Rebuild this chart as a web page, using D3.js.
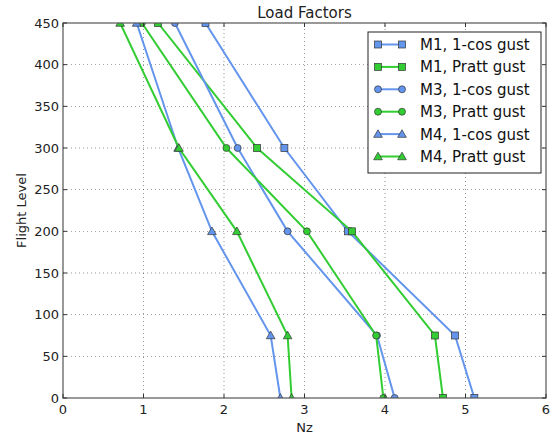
<!DOCTYPE html>
<html><head><meta charset="utf-8">
<script src="https://cdn.jsdelivr.net/npm/d3@7"></script>
<style>body{margin:0;background:#fff;} svg{display:block;}</style>
</head><body>
<script>
const levels = [450, 300, 200, 75, 0];
const m1Cos   = [1.77, 2.75, 3.54, 4.87, 5.11];
const m1Pratt = [1.18, 2.41, 3.59, 4.62, 4.72];
const m3Cos   = [1.39, 2.17, 2.79, 3.90, 4.12];
const m3Pratt = [0.98, 2.03, 3.03, 3.89, 3.98];
const m4Cos   = [0.915, 1.43, 1.85, 2.58, 2.70];
const m4Pratt = [0.71, 1.44, 2.16, 2.79, 2.84];
const seriesNames = ["M1, 1-cos gust","M1, Pratt gust","M3, 1-cos gust","M3, Pratt gust","M4, 1-cos gust","M4, Pratt gust"];
const xTicks = [0,1,2,3,4,5,6];
const yTicks = [0,50,100,150,200,250,300,350,400,450];

const series = [
  {name: seriesNames[0], vals: m1Cos, color: "#6495ed", marker: "square"},
  {name: seriesNames[1], vals: m1Pratt, color: "#32cd32", marker: "square"},
  {name: seriesNames[2], vals: m3Cos, color: "#6495ed", marker: "circle"},
  {name: seriesNames[3], vals: m3Pratt, color: "#32cd32", marker: "circle"},
  {name: seriesNames[4], vals: m4Cos, color: "#6495ed", marker: "triangle"},
  {name: seriesNames[5], vals: m4Pratt, color: "#32cd32", marker: "triangle"},
];

const W = 552, H = 435;
const m = {left: 63, right: 6, top: 23, bottom: 37};
const svg = d3.select("body").append("svg").attr("width", W).attr("height", H)
  .style("font-family", "'DejaVu Sans', sans-serif");
const iw = W - m.left - m.right, ih = H - m.top - m.bottom;
const x = d3.scaleLinear().domain([0, 6]).range([m.left, m.left + iw]);
const y = d3.scaleLinear().domain([0, 450]).range([m.top + ih, m.top]);

const g = svg.append("g");
// grid
g.selectAll("line.gx").data(xTicks.slice(1, -1)).join("line")
  .attr("x1", d => x(d)).attr("x2", d => x(d)).attr("y1", y(0)).attr("y2", y(450))
  .attr("stroke", "#000").attr("stroke-width", 0.6).attr("stroke-dasharray", "1,3").attr("opacity", 0.7);
g.selectAll("line.gy").data(yTicks.slice(1, -1)).join("line")
  .attr("y1", d => y(d)).attr("y2", d => y(d)).attr("x1", x(0)).attr("x2", x(6))
  .attr("stroke", "#000").attr("stroke-width", 0.6).attr("stroke-dasharray", "1,3").attr("opacity", 0.7);

const clip = svg.append("clipPath").attr("id", "c").append("rect")
  .attr("x", x(0)).attr("y", y(450)).attr("width", iw).attr("height", ih);

const plot = svg.append("g").attr("clip-path", "url(#c)");
const line = d3.line().x(d => x(d[0])).y(d => y(d[1]));

function drawMarker(sel, type, color, size) {
  if (type === "square") {
    sel.append("rect").attr("x", -size/2).attr("y", -size/2).attr("width", size).attr("height", size)
      .attr("fill", color).attr("stroke", "#333").attr("stroke-width", 0.7);
  } else if (type === "circle") {
    sel.append("circle").attr("r", size/2).attr("fill", color).attr("stroke", "#333").attr("stroke-width", 0.7);
  } else {
    const s = size * 0.62;
    sel.append("path").attr("d", `M0,${-s}L${s},${s*0.75}L${-s},${s*0.75}Z`)
      .attr("fill", color).attr("stroke", "#333").attr("stroke-width", 0.7);
  }
}

series.forEach(s => {
  const pts = s.vals.map((v, i) => [v, levels[i]]);
  plot.append("path").datum(pts).attr("d", line).attr("fill", "none")
    .attr("stroke", s.color).attr("stroke-width", 2);
  pts.forEach(p => {
    const mg = plot.append("g").attr("transform", `translate(${x(p[0])},${y(p[1])})`);
    drawMarker(mg, s.marker, s.color, 7);
  });
});

// frame
svg.append("rect").attr("x", x(0)).attr("y", y(450)).attr("width", iw).attr("height", ih)
  .attr("fill", "none").attr("stroke", "#555").attr("stroke-width", 1.2);

// ticks (inward)
xTicks.forEach(t => {
  svg.append("line").attr("x1", x(t)).attr("x2", x(t)).attr("y1", y(0)).attr("y2", y(0) - 4).attr("stroke", "#333");
  svg.append("line").attr("x1", x(t)).attr("x2", x(t)).attr("y1", y(450)).attr("y2", y(450) + 4).attr("stroke", "#333");
  svg.append("text").attr("x", x(t)).attr("y", y(0) + 16).attr("text-anchor", "middle")
    .attr("font-size", 13).attr("fill", "#222").text(t);
});
yTicks.forEach(t => {
  svg.append("line").attr("x1", x(0)).attr("x2", x(0) + 4).attr("y1", y(t)).attr("y2", y(t)).attr("stroke", "#333");
  svg.append("line").attr("x1", x(6)).attr("x2", x(6) - 4).attr("y1", y(t)).attr("y2", y(t)).attr("stroke", "#333");
  svg.append("text").attr("x", x(0) - 4).attr("y", y(t) + 4.5).attr("text-anchor", "end")
    .attr("font-size", 13).attr("fill", "#222").text(t);
});

svg.append("text").attr("x", (x(0) + x(6)) / 2).attr("y", 18).attr("text-anchor", "middle")
  .attr("font-size", 15).attr("fill", "#222").text("Load Factors");
svg.append("text").attr("x", (x(0) + x(6)) / 2).attr("y", 432).attr("text-anchor", "middle")
  .attr("font-size", 13).attr("fill", "#222").text("Nz");
svg.append("text").attr("transform", `translate(26,${(y(0) + y(450)) / 2}) rotate(-90)`)
  .attr("text-anchor", "middle").attr("font-size", 13).attr("fill", "#222").text("Flight Level");

// legend
const lg = svg.append("g");
lg.append("rect").attr("x", 368).attr("y", 32).attr("width", 173).attr("height", 141)
  .attr("fill", "#fff").attr("stroke", "#222").attr("stroke-width", 1);
series.forEach((s, i) => {
  const yy = 44.5 + i * 22.4;
  lg.append("line").attr("x1", 378).attr("x2", 402).attr("y1", yy).attr("y2", yy)
    .attr("stroke", s.color).attr("stroke-width", 2);
  [378, 402].forEach(xx => {
    const mg = lg.append("g").attr("transform", `translate(${xx},${yy})`);
    drawMarker(mg, s.marker, s.color, 7);
  });
  lg.append("text").attr("x", 420).attr("y", yy + 5.5).attr("font-size", 15).attr("fill", "#111").text(s.name);
});
</script>
</body></html>
